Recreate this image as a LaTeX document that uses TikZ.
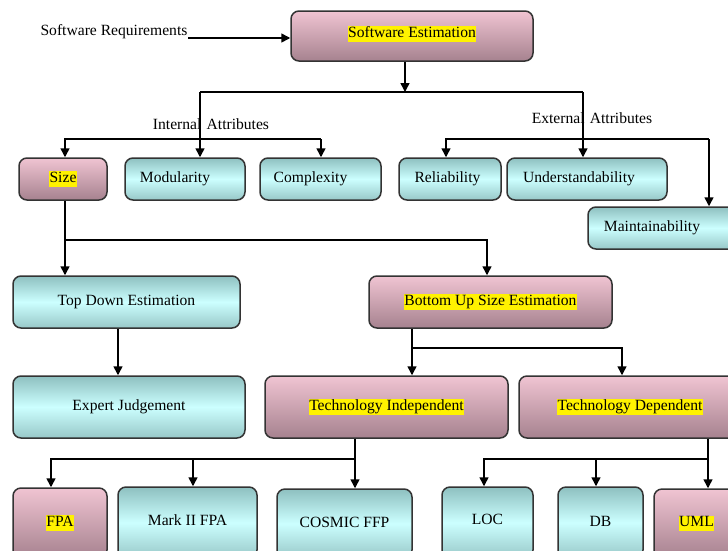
\documentclass[tikz,border=0pt]{standalone}
\usepackage{fontspec}
\setmainfont{Liberation Serif}
\usetikzlibrary{arrows.meta}
\definecolor{pinkTop}{HTML}{F0C4D2}
\definecolor{pinkBot}{HTML}{A6828F}
\definecolor{cyanTop}{HTML}{8EC0C0}
\definecolor{cyanMid}{HTML}{CCFFFF}
\definecolor{cyanBot}{HTML}{98C8C8}
\definecolor{edge}{HTML}{333333}
\newcommand\hl[1]{{\setlength{\fboxsep}{0.5pt}\colorbox{yellow}{\rule[-4pt]{0pt}{13.5pt}#1}}}
\tikzset{
  boxbase/.style={draw=edge, line width=1.5pt, rounded corners=8pt, inner sep=0pt,
    font=\fontsize{15.6}{18}\selectfont, text=black},
  pinkbox/.style={boxbase, top color=pinkTop, bottom color=pinkBot},
  cyanbox/.style={boxbase, top color=cyanTop, bottom color=cyanBot, middle color=cyanMid},
  plain/.style={font=\fontsize{15.6}{18}\selectfont, inner sep=0pt},
  arr/.style={line width=1.5pt, -{Triangle[length=9pt,width=9pt]}},
  ln/.style={line width=1.5pt}
}
\begin{document}
\begin{tikzpicture}[x=1pt,y=-1pt]
\clip (0,0) rectangle (728,550);
\fill[white] (0,0) rectangle (728,550);
% boxes
\node[pinkbox, minimum width=242pt, minimum height=50pt] (se) at (412,36) {\raisebox{9pt}{\hl{Software Estimation}}};
\node[pinkbox, minimum width=88pt, minimum height=42pt] (size) at (63,179) {\hl{Size}};
\node[cyanbox, minimum width=120pt, minimum height=42pt] (mod) at (185,179) {\hspace*{-20pt}Modularity};
\node[cyanbox, minimum width=121pt, minimum height=42pt] (cpx) at (320.5,179) {\hspace*{-20pt}Complexity};
\node[cyanbox, minimum width=102pt, minimum height=42pt] (rel) at (450,179) {\hspace*{-5pt}Reliability};
\node[cyanbox, minimum width=160pt, minimum height=42pt] (und) at (587,179) {\hspace*{-16pt}Understandability};
\node[cyanbox, minimum width=152pt, minimum height=42pt] (mnt) at (664,228) {\hspace*{-24pt}Maintainability};
\node[cyanbox, minimum width=227pt, minimum height=52pt] (td) at (126.5,302) {Top Down Estimation};
\node[pinkbox, minimum width=243pt, minimum height=52pt] (bu) at (490.5,302) {\hl{Bottom Up Size Estimation}};
\node[cyanbox, minimum width=232pt, minimum height=62pt] (ej) at (129,407) {\raisebox{2pt}{Expert Judgement}};
\node[pinkbox, minimum width=243pt, minimum height=62pt] (ti) at (386.5,407) {\hl{Technology Independent}};
\node[pinkbox, minimum width=222pt, minimum height=62pt] (tdp) at (630,407) {\hl{Technology Dependent}};
\node[pinkbox, minimum width=94pt, minimum height=70pt] (fpa) at (60,523) {\hl{FPA}};
\node[cyanbox, minimum width=139pt, minimum height=71pt] (mk2) at (187.5,522.5) {\raisebox{4.5pt}{Mark II FPA}};
\node[cyanbox, minimum width=135pt, minimum height=69pt] (cos) at (344.5,523.5) {\raisebox{1.5pt}{COSMIC FFP}};
\node[cyanbox, minimum width=91pt, minimum height=71pt] (loc) at (487.5,522.5) {\raisebox{5.5pt}{LOC}};
\node[cyanbox, minimum width=85pt, minimum height=71pt] (db) at (600.5,522.5) {\raisebox{1.5pt}{DB}};
\node[pinkbox, minimum width=85pt, minimum height=69pt] (uml) at (696.5,523.5) {\raisebox{2pt}{\hl{UML}}};
% labels
\node[plain] (req) at (114,32) {Software Requirements};
\node[plain] (ia) at (211,124) {Internal\,\,Attributes};
\node[plain] (ea) at (592,118) {External\,\,Attributes};
% coordinates
\coordinate (rq) at (188,38);
\coordinate (j0) at (405,92);
\coordinate (j1) at (200,92);
\coordinate (j2) at (583,92);
\coordinate (ia1) at (65,139);
\coordinate (ia2) at (321,139);
\coordinate (ea1) at (446,139);
\coordinate (ea2) at (709,139);
\coordinate (s1) at (65,240);
\coordinate (s2) at (487,240);
\coordinate (tdx) at (118,340);
\coordinate (b1) at (412,348);
\coordinate (b2) at (622,348);
\coordinate (t1) at (355,459);
\coordinate (t2) at (51,459);
\coordinate (t3) at (193,459);
\coordinate (d1) at (708,459);
\coordinate (d2) at (484,459);
\coordinate (d3) at (596,459);
% connectors
\draw[arr] (rq) -- (rq -| se.west);
\draw[arr] (se.south -| j0) -- (j0);
\draw[ln] (j1) -- (j2);
\draw[arr] (j1) -- (j1 |- mod.north);
\draw[arr] (j2) -- (j2 |- und.north);
\draw[arr] (ia2) -- (ia1) -- (ia1 |- size.north);
\draw[arr] (ia2) -- (ia2 |- cpx.north);
\draw[arr] (ea2) -- (ea1) -- (ea1 |- rel.north);
\draw[arr] (ea2) -- (ea2 |- mnt.north);
\draw[arr] (s1 |- size.south) -- (s1 |- td.north);
\draw[arr] (s1) -- (s2) -- (s2 |- bu.north);
\draw[arr] (tdx |- td.south) -- (tdx |- ej.north);
\draw[arr] (b1 |- bu.south) -- (b1 |- ti.north);
\draw[arr] (b1) -- (b2) -- (b2 |- tdp.north);
\draw[arr] (t1 |- ti.south) -- (t1 |- cos.north);
\draw[arr] (t1) -- (t2) -- (t2 |- fpa.north);
\draw[arr] (t3) -- (t3 |- mk2.north);
\draw[arr] (d1 |- tdp.south) -- (d1 |- uml.north);
\draw[arr] (d1) -- (d2) -- (d2 |- loc.north);
\draw[arr] (d3) -- (d3 |- db.north);
\end{tikzpicture}
\end{document}
